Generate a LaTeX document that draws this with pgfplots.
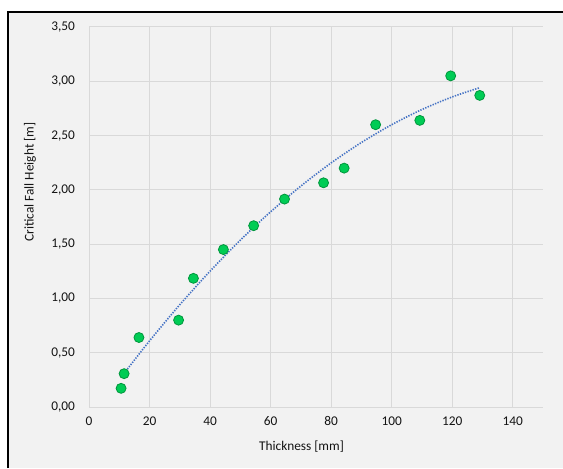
\documentclass[border=0pt]{standalone}
\usepackage{fontspec}
\setmainfont{Carlito}
\usepackage{pgfplots}
\pgfplotsset{compat=1.18}
\definecolor{bg}{RGB}{242,242,242}
\definecolor{gridc}{RGB}{217,217,217}
\definecolor{ptfill}{RGB}{0,204,85}
\definecolor{ptdraw}{RGB}{0,150,60}
\definecolor{trend}{RGB}{68,114,196}
\definecolor{txt}{RGB}{20,20,20}
\begin{document}
\begin{tikzpicture}
\useasboundingbox (0,0) rectangle (422.25pt,351pt);
\fill[white] (0,0) rectangle (422.25pt,351pt);
\fill[bg] (6pt,0) rectangle (422.25pt,342pt);
\draw[black, line width=1pt] (6pt,0) -- (6pt,342pt) -- (422.25pt,342pt);
\begin{axis}[
  at={(66.75pt,45.75pt)}, anchor=south west,
  scale only axis, width=340.5pt, height=285pt,
  xmin=0, xmax=150, ymin=0, ymax=3.5,
  xtick={0,20,40,60,80,100,120,140},
  ytick={0,0.5,1,1.5,2,2.5,3,3.5},
  grid=major, major grid style={gridc, line width=0.75pt},
  axis line style={draw=none}, tick style={draw=none},
  /pgf/number format/assume math mode=true,
  ticklabel style={font=\fontsize{10}{12}\selectfont, text=txt},
  x tick label style={yshift=-3.5pt},
  y tick label style={xshift=-7pt, /pgf/number format/.cd, fixed, fixed zerofill, precision=2, use comma},
  xlabel={Thickness [mm]}, ylabel={Critical Fall Height [m]},
  label style={font=\fontsize{10}{12}\selectfont, text=txt},
  xlabel style={at={(axis description cs:0.468,-0.1053)}, anchor=center},
  ylabel style={at={(axis description cs:-0.13,0.592)}, anchor=center},
  clip=false,
]
\addplot[trend, line width=1.2pt, dash pattern=on 1pt off 1pt, smooth] coordinates {
(11.6,0.31) (20,0.609) (30,0.942) (40,1.251) (50,1.537) (60,1.798) (70,2.035)
(80,2.248) (90,2.436) (100,2.600) (110,2.740) (120,2.856) (129,2.94)};
\addplot[only marks, mark=*, mark size=3.75pt, mark options={fill=ptfill, draw=ptdraw, line width=0.6pt}] coordinates {
(10.6,0.172) (11.6,0.307) (16.5,0.64) (29.6,0.80) (34.5,1.185) (44.4,1.45) (54.4,1.67)
(64.6,1.915) (77.5,2.065) (84.3,2.20) (94.7,2.60) (109.3,2.64) (119.5,3.05) (129.1,2.87)};
\end{axis}
\end{tikzpicture}
\end{document}
